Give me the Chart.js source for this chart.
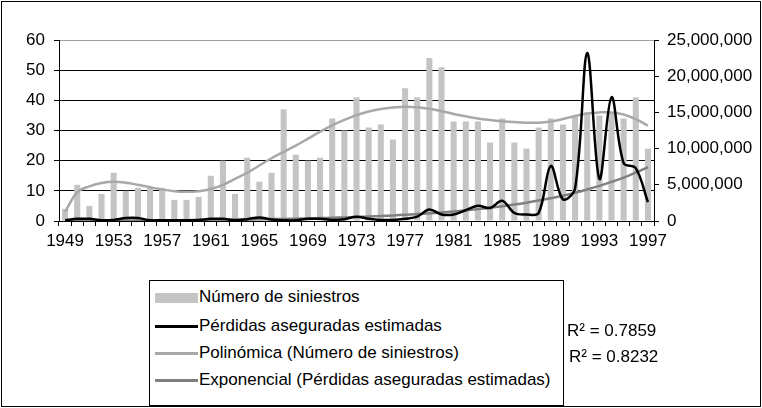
<!DOCTYPE html>
<html>
<head>
<meta charset="utf-8">
<script src="https://cdn.jsdelivr.net/npm/chart.js@4.4.0/dist/chart.umd.min.js"></script>
<style>
  html, body { margin: 0; padding: 0; background: #fff; }
  #wrap { position: relative; width: 762px; height: 408px; font-family: "Liberation Sans", Arial, sans-serif; color: #000; }
  #chart { position: absolute; left: 0; top: 0; }
  #frame { position: absolute; left: 1px; top: 1px; width: 760px; height: 406px; border: 1px solid #000; box-sizing: border-box; pointer-events: none; }
  #legend { position: absolute; left: 149px; top: 280px; width: 415px; height: 126px; border: 1px solid #000; box-sizing: border-box; background: #fff; }
  .row { position: absolute; left: 0; height: 20px; line-height: 20px; font-size: 17px; white-space: nowrap; }
  .row span.sw { position: absolute; left: 5px; width: 43px; }
  .row span.tx { position: absolute; left: 49px; }
  .r2 { position: absolute; font-size: 17px; line-height: 20px; white-space: nowrap; }
</style>
</head>
<body>
<div id="wrap">
  <canvas id="chart" width="762" height="408"></canvas>
  <div id="legend"></div>
  <div id="frame"></div>
</div>
<script>
(function () {
  'use strict';

  var years = ['1949', '1950', '1951', '1952', '1953', '1954', '1955', '1956', '1957', '1958',
    '1959', '1960', '1961', '1962', '1963', '1964', '1965', '1966', '1967', '1968',
    '1969', '1970', '1971', '1972', '1973', '1974', '1975', '1976', '1977', '1978',
    '1979', '1980', '1981', '1982', '1983', '1984', '1985', '1986', '1987', '1988',
    '1989', '1990', '1991', '1992', '1993', '1994', '1995', '1996', '1997'];
  var xTickLabels = ['1949', '1953', '1957', '1961', '1965', '1969', '1973', '1977', '1981', '1985', '1989', '1993', '1997'];

  var siniestros = [4, 12, 5, 9, 16, 10, 11, 11, 11, 7,
    7, 8, 15, 20, 9, 21, 13, 16, 37, 22,
    20, 21, 34, 30, 41, 31, 32, 27, 44, 41,
    54, 51, 33, 33, 33, 26, 34, 26, 24, 31,
    34, 32, 35, 36, 35, 36, 34, 41, 24];

  var perdidas = [100000, 300000, 300000, 100000, 150000, 400000, 400000, 100000, 100000, 100000,
    100000, 150000, 300000, 300000, 100000, 250000, 500000, 200000, 100000, 100000,
    300000, 300000, 150000, 250000, 600000, 300000, 150000, 150000, 300000, 600000,
    1600000, 900000, 900000, 1500000, 2100000, 1800000, 2800000, 1100000, 900000, 1100000,
    7600000, 3000000, 4500000, 23200000, 5800000, 17100000, 8000000, 7300000, 2600000];

  var polinomica = [3.0, 9.5, 11.5, 12.6, 13.0, 12.7, 12.0, 11.2, 10.4, 9.9,
    9.7, 9.9, 10.6, 12.0, 14.0, 16.0, 18.4, 20.8, 22.9, 25.0,
    27.3, 29.6, 31.7, 33.5, 35.1, 36.3, 37.1, 37.6, 37.9, 37.7,
    37.2, 36.4, 35.5, 34.7, 34.0, 33.5, 33.1, 32.8, 32.6, 32.6,
    33.0, 33.8, 34.8, 35.6, 36.0, 36.0, 35.3, 33.8, 31.6];

  var exponencial = [40000, 40000, 50000, 50000, 60000, 70000, 80000, 90000, 100000, 110000,
    120000, 130000, 150000, 170000, 190000, 210000, 230000, 260000, 290000, 320000,
    360000, 400000, 450000, 500000, 550000, 620000, 690000, 770000, 860000, 950000,
    1060000, 1180000, 1320000, 1470000, 1640000, 1830000, 2040000, 2270000, 2530000, 2820000,
    3140000, 3500000, 3900000, 4350000, 4850000, 5400000, 6000000, 6700000, 7450000];

  var leftMax = 60, leftStep = 10;
  var rightMax = 25000000, rightStep = 5000000;
  var r2Labels = ['R² = 0.7859', 'R² = 0.8232'];

  var FONT = '"Liberation Sans", Arial, sans-serif';
  Chart.defaults.font.family = FONT;
  Chart.defaults.font.size = 17;
  Chart.defaults.color = '#000';

  var datasets = [
    {
      type: 'bar', label: 'Número de siniestros', data: siniestros, yAxisID: 'y',
      backgroundColor: '#c4c4c4', borderWidth: 0,
      barPercentage: 0.5, categoryPercentage: 1, order: 4
    },
    {
      type: 'line', label: 'Pérdidas aseguradas estimadas', data: perdidas, yAxisID: 'y2',
      borderColor: '#000', borderWidth: 2.5, pointRadius: 0, tension: 0.35, fill: false, order: 1
    },
    {
      type: 'line', label: 'Polinómica (Número de siniestros)', data: polinomica, yAxisID: 'y',
      borderColor: '#a8a8a8', borderWidth: 2.5, pointRadius: 0, tension: 0.4, fill: false, order: 3
    },
    {
      type: 'line', label: 'Exponencial (Pérdidas aseguradas estimadas)', data: exponencial, yAxisID: 'y2',
      borderColor: '#808080', borderWidth: 2.5, pointRadius: 0, tension: 0.4, fill: false, order: 2
    }
  ];

  var chart = new Chart(document.getElementById('chart'), {
    data: { labels: years, datasets: datasets },
    options: {
      responsive: false,
      animation: false,
      devicePixelRatio: 1,
      layout: { padding: { top: 40, left: 0, right: 0, bottom: 157 } },
      plugins: { legend: { display: false }, tooltip: { enabled: false } },
      scales: {
        x: {
          offset: true,
          grid: { offset: true, drawOnChartArea: false, drawTicks: true, tickLength: 5, tickColor: '#000' },
          border: { color: '#000', width: 1 },
          ticks: {
            autoSkip: false, maxRotation: 0, minRotation: 0, padding: 5, color: '#000',
            callback: function (v, i) {
              return xTickLabels.indexOf(years[i]) >= 0 ? years[i] : '';
            }
          },
          afterFit: function (s) { s.height = 30; }
        },
        y: {
          position: 'left', min: 0, max: leftMax,
          grid: {
            color: function (ctx) { return ctx.tick && ctx.tick.value === leftMax ? '#a0a0a0' : '#000'; },
            tickColor: '#000', tickLength: 5, lineWidth: 1
          },
          border: { color: '#000', width: 1 },
          ticks: { stepSize: leftStep, padding: 9, color: '#000' },
          afterFit: function (s) { s.width = 59; }
        },
        y2: {
          position: 'right', min: 0, max: rightMax,
          grid: { drawOnChartArea: false, tickColor: '#000', tickLength: 5 },
          border: { color: '#000', width: 1 },
          ticks: {
            stepSize: rightStep, padding: 8, color: '#000',
            callback: function (v) { return Number(v).toLocaleString('en-US'); }
          },
          afterFit: function (s) { s.width = 108; }
        }
      }
    }
  });

  // legend box built from the chart's own datasets
  var legend = document.getElementById('legend');
  var rowTops = [6, 35, 62, 89];
  chart.data.datasets.forEach(function (d, i) {
    var row = document.createElement('div');
    row.className = 'row';
    row.style.top = rowTops[i] + 'px';
    var sw = document.createElement('span');
    sw.className = 'sw';
    if (d.type === 'bar') {
      sw.style.top = '6px'; sw.style.height = '10px'; sw.style.background = d.backgroundColor;
    } else {
      sw.style.top = '9px'; sw.style.height = '3px'; sw.style.background = d.borderColor;
    }
    var tx = document.createElement('span');
    tx.className = 'tx';
    tx.textContent = d.label;
    row.appendChild(sw);
    row.appendChild(tx);
    legend.appendChild(row);
  });

  var wrap = document.getElementById('wrap');
  var r2Pos = [[567, 321], [569, 347]];
  r2Labels.forEach(function (t, i) {
    var el = document.createElement('div');
    el.className = 'r2';
    el.style.left = r2Pos[i][0] + 'px';
    el.style.top = r2Pos[i][1] + 'px';
    el.textContent = t;
    wrap.appendChild(el);
  });
})();
</script>
</body>
</html>
